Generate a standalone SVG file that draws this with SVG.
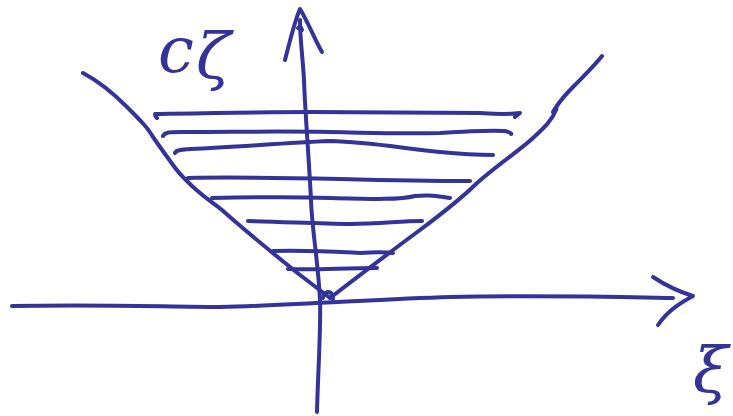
<svg xmlns="http://www.w3.org/2000/svg" width="733" height="416" viewBox="0 0 733 416">
<style>
.s{fill:none;stroke:#33339a;stroke-width:4;stroke-linecap:round;stroke-linejoin:round}
.t{fill:#33339a;font-family:"DejaVu Serif","Liberation Serif",serif;font-style:italic}
</style>
<rect width="733" height="416" fill="#ffffff"/>
<g id="connectors">
<path id="v-axis" class="s" d="M317 412 C318 370 321 330 320 300 C318 260 312 230 311 200 C309 160 305 110 304 80 C303 60 300 40 300 20"/>
<path id="v-arrow" class="s" d="M285 60 C290 40 295 20 300 9 C308 22 315 40 322 52 M298 28 C300 26 301 26 302 30"/>
<path id="h-axis" class="s" d="M12 306 C100 304 170 307 220 307 C300 305 380 299 450 297 C540 295 620 297 673 298"/>
<path id="h-arrow" class="s" d="M653 277 C665 285 680 292 693 296 C682 302 668 310 658 325"/>
</g>
<g id="curve">
<path class="s" d="M83 73 C100 82 115 95 127 107 C140 120 148 128 153 137 C162 150 168 158 173 165 C180 175 186 180 192 186 C205 198 212 202 222 210 C250 235 275 255 300 275 C312 284 322 292 330 298"/>
<path class="s" d="M330 298 C360 275 390 252 420 230 C440 215 460 200 477 183 C500 163 520 150 533 138 C545 127 552 120 556 110 C558 105 553 112 553 112 C560 100 565 95 572 88 C585 75 595 65 602 56"/>
<path class="s" d="M323 298 C324 292 328 291 331 293 C333 295 333 297 333 299"/>
</g>
<g id="hatching">
<path class="s" d="M157 118 C155 116 155 115 155 114 C210 113 260 112 310 112 C380 112 440 113 480 113 C495 114 505 115 520 113 L515 117"/>
<path class="s" d="M163 136 C165 132 170 132 180 132 C230 132 280 131 330 132 C380 133 400 134 440 133 C470 131 490 130 505 131 C510 132 512 134 511 134"/>
<path class="s" d="M175 153 C176 150 180 150 190 149 C240 147 280 143 330 141 C370 142 400 148 440 152 C460 154 480 155 493 155"/>
<path class="s" d="M188 178 C230 177 290 178 340 179 C380 180 430 181 470 181"/>
<path class="s" d="M212 198 C260 197 300 197 330 198 C370 199 400 200 415 196 C425 195 430 195 450 198"/>
<path class="s" d="M248 221 C290 222 320 224 350 224 C380 224 400 221 422 221"/>
<path class="s" d="M273 251 C310 250 340 252 360 253 C375 252 385 252 393 253"/>
<path class="s" d="M288 269 C320 270 340 268 377 268"/>
</g>
<g id="labels">
<text class="t" x="158" y="72" font-size="64">c</text>
<text class="t" x="196" y="78" font-size="64">ζ</text>
<text class="t" x="693" y="392" font-size="64">ξ</text>
</g>
</svg>
